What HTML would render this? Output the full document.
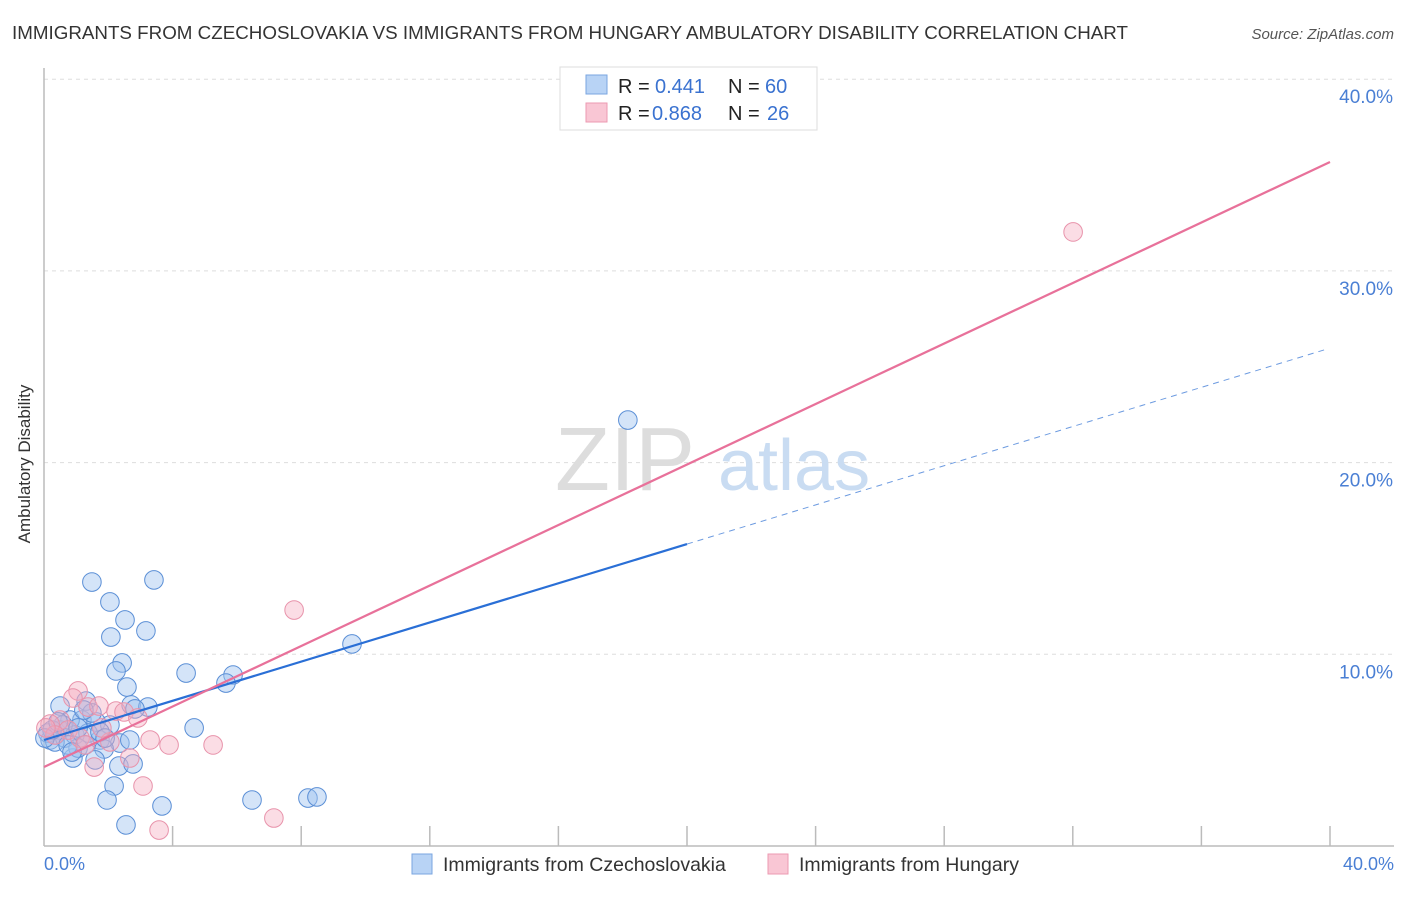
<!DOCTYPE html>
<html><head><meta charset="utf-8"><style>
body{margin:0;background:#fff;font-family:"Liberation Sans",sans-serif;}
svg text{font-family:"Liberation Sans",sans-serif;}
</style></head><body>
<svg width="1406" height="892" viewBox="0 0 1406 892">
<text x="12" y="39" font-size="18" fill="#333" textLength="1116" lengthAdjust="spacingAndGlyphs">IMMIGRANTS FROM CZECHOSLOVAKIA VS IMMIGRANTS FROM HUNGARY AMBULATORY DISABILITY CORRELATION CHART</text>
<text x="1394" y="39" font-size="15" fill="#555" font-style="italic" text-anchor="end">Source: ZipAtlas.com</text>
<g id="grid"></g>
<g>
<text x="555" y="490" font-size="90" fill="#ddd" font-family="Liberation Serif">ZIP</text>
<text x="718" y="490" font-size="72" fill="#c9dcf2">atlas</text>
</g>
<line x1="44" y1="68" x2="44" y2="846" stroke="#bbb" stroke-width="1.5"/>
<line x1="44" y1="846" x2="1394" y2="846" stroke="#bbb" stroke-width="1.5"/>
<g id="ticks"></g>
<g id="pts"></g>
<g id="trends"></g>
<text x="22" y="456" font-size="17" fill="#333" text-anchor="middle" transform="rotate(-90 30 456)">Ambulatory Disability</text>
<text x="44" y="870" font-size="18" fill="#4a7fd4">0.0%</text>
<text x="1394" y="870" font-size="18" fill="#4a7fd4" text-anchor="end">40.0%</text>
<g>
<rect x="560" y="67" width="257" height="63" fill="#fff" stroke="#ddd"/>
<rect x="586" y="75" width="21" height="19" fill="#b8d3f5" stroke="#7aa6e0"/>
<rect x="586" y="103" width="21" height="19" fill="#f9c6d4" stroke="#ec9ab2"/>
<text x="618" y="93" font-size="20" fill="#222">R =</text>
<text x="655" y="93" font-size="20" fill="#3a72d0">0.441</text>
<text x="728" y="93" font-size="20" fill="#222">N =</text>
<text x="765" y="93" font-size="20" fill="#3a72d0">60</text>
<text x="618" y="120" font-size="20" fill="#222">R =</text>
<text x="652" y="120" font-size="20" fill="#3a72d0">0.868</text>
<text x="728" y="120" font-size="20" fill="#222">N =</text>
<text x="767" y="120" font-size="20" fill="#3a72d0">26</text>
</g>
<g>
<rect x="412" y="854" width="20" height="20" fill="#b8d3f5" stroke="#7aa6e0"/>
<text x="443" y="871" font-size="19.5" fill="#333">Immigrants from Czechoslovakia</text>
<rect x="768" y="854" width="20" height="20" fill="#f9c6d4" stroke="#ec9ab2"/>
<text x="799" y="871" font-size="19.5" fill="#333">Immigrants from Hungary</text>
</g>
</svg>
<script>
const yTicks=[10,20,30,40];
const yTickLabels=["10.0%","20.0%","30.0%","40.0%"];
const xTicks=[4,8,12,16,20,24,28,32,36,40];
const blueX=[1.49,3.42,2.05,2.52,2.08,3.17,2.43,2.24,4.42,5.88,5.66,2.58,2.71,3.23,2.83,1.31,0.5,4.67,9.58,18.16,1.18,1.62,0.81,2.36,1.74,1.87,0.9,1.59,2.33,2.77,2.18,1.96,3.67,2.55,6.47,8.21,8.49,0.19,0.37,0.5,0.12,0.65,0.96,1.37,1.06,1.28,0.34,0.59,2.05,1.49,2.67,1.24,1.74,0.75,0.25,0.44,0.03,1.06,0.87,1.9];
const blueY=[13.77,13.88,12.73,11.79,10.9,11.22,9.55,9.13,9.02,8.92,8.5,8.29,7.36,7.25,7.15,7.56,7.3,6.16,10.54,22.22,6.57,6.47,6.57,5.37,5.53,5.06,4.59,4.49,4.17,4.28,3.13,2.4,2.09,1.1,2.4,2.5,2.56,5.53,5.79,6.05,5.89,5.63,5.79,5.89,5.11,5.27,5.43,6.31,6.31,6.94,5.53,7.09,5.95,5.27,6.05,6.47,5.63,6.16,4.9,5.63];
const pinkX=[32.01,7.78,1.06,0.9,1.37,1.71,2.24,2.49,2.92,3.3,3.89,5.26,2.67,1.56,3.08,3.58,7.15,2.05,0.5,0.19,0.75,1.12,0.34,0.06,1.28,1.8];
const pinkY=[32.03,12.31,8.09,7.72,7.25,7.3,7.04,6.99,6.68,5.53,5.27,5.27,4.59,4.12,3.13,0.83,1.46,5.43,6.57,6.36,6.05,5.63,5.79,6.16,5.27,6.16];
const blueTrend=[5.53,0.511];
const pinkTrend=[4.12,0.789];
const NS="http://www.w3.org/2000/svg";
const sx=v=>44+v*32.15, sy=v=>846-v*19.17;
function mk(t,a,p){const e=document.createElementNS(NS,t);for(const k in a)e.setAttribute(k,a[k]);document.getElementById(p).appendChild(e);return e;}
yTicks.forEach((v,i)=>{
 const l=mk('line',{x1:44,x2:1394,y1:sy(v),y2:sy(v),stroke:'#ddd','stroke-dasharray':'4,4'},'grid');
 
 
 const t=mk('text',{x:1393,y:sy(v)+24,'font-size':19,fill:'#4a7fd4','text-anchor':'end'},'grid');
 t.textContent=yTickLabels[i];
 
 
});
xTicks.forEach(v=>{
 const l=mk('line',{x1:sx(v),x2:sx(v),y1:826,y2:846,stroke:'#bbb','stroke-width':1.5},'ticks');
 
 
});
blueX.forEach((x,i)=>{
 const c=mk('circle',{cx:sx(x),cy:sy(blueY[i]),r:9.3,fill:'rgba(160,196,240,0.45)',stroke:'#5b8fd6','stroke-width':1},'pts');
 
 
});
pinkX.forEach((x,i)=>{
 const c=mk('circle',{cx:sx(x),cy:sy(pinkY[i]),r:9.3,fill:'rgba(245,170,190,0.4)',stroke:'#e893ab','stroke-width':1},'pts');
 
 
});
const bf=x=>blueTrend[0]+blueTrend[1]*x, pf=x=>pinkTrend[0]+pinkTrend[1]*x;
let l=mk('line',{x1:sx(0),y1:sy(bf(0)),x2:sx(20),y2:sy(bf(20)),stroke:'#2a6fd6','stroke-width':2.2},'trends');


l=mk('line',{x1:sx(20),y1:sy(bf(20)),x2:sx(39.9),y2:sy(bf(39.9)),stroke:'#6d9be0','stroke-width':1,'stroke-dasharray':'6,5'},'trends');


l=mk('line',{x1:sx(0),y1:sy(pf(0)),x2:sx(40),y2:sy(pf(40)),stroke:'#e8719a','stroke-width':2.2},'trends');


</script>
</body></html>
